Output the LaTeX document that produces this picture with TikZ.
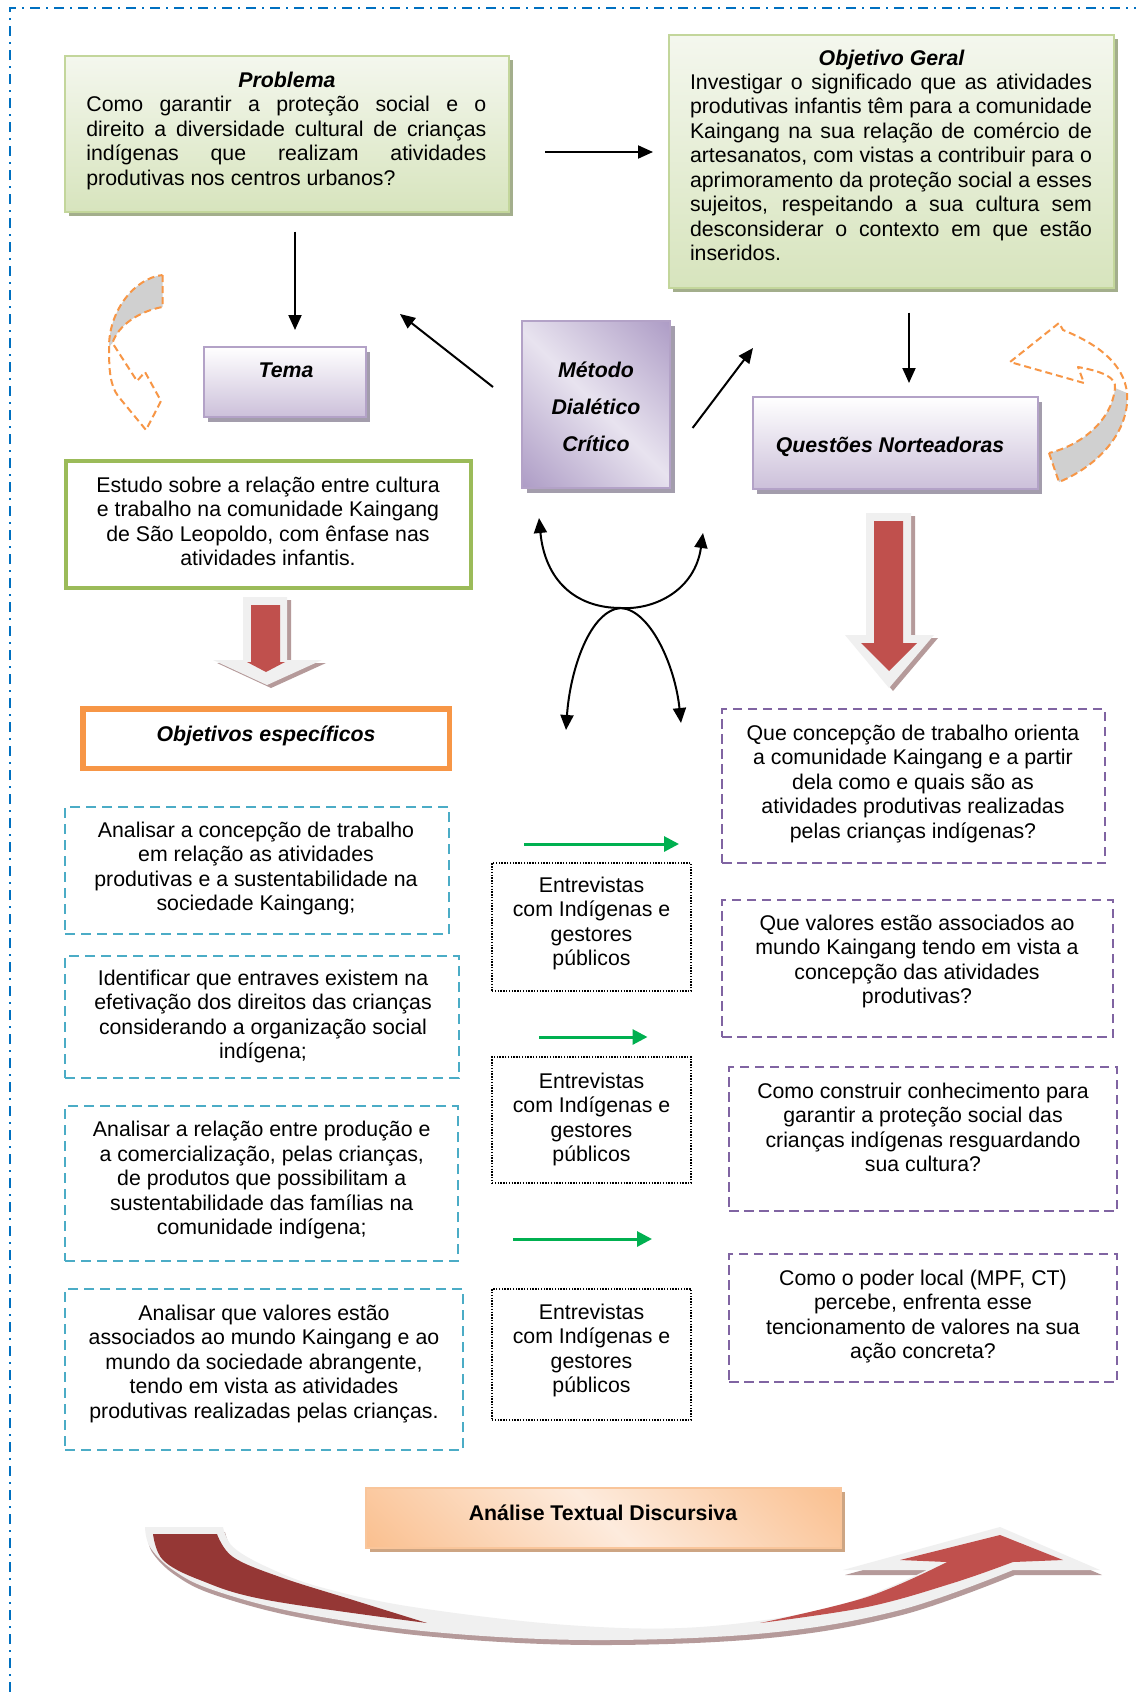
\documentclass[tikz,border=0pt]{standalone}
\usepackage{fontspec}
\setmainfont{Liberation Sans}
\usetikzlibrary{arrows.meta,shadows,calc}
\definecolor{bordblue}{HTML}{0070C0}
\definecolor{gtop}{HTML}{F4F7EE}
\definecolor{gbot}{HTML}{D7E4BD}
\definecolor{gline}{HTML}{C3D69B}
\definecolor{gshad}{HTML}{A3AE8C}
\definecolor{pbot}{HTML}{CCC0DA}
\definecolor{pline}{HTML}{B3A2C7}
\definecolor{pshad}{HTML}{A39DAC}
\definecolor{mpurp}{HTML}{AE9DC6}
\definecolor{mlight}{HTML}{E8E3EF}
\definecolor{opeach}{HTML}{FAC090}
\definecolor{olight}{HTML}{FDEBDD}
\definecolor{oshad}{HTML}{CDA583}
\definecolor{aline}{HTML}{F9C59A}
\definecolor{estgreen}{HTML}{9BBB59}
\definecolor{orng}{HTML}{F79646}
\definecolor{cyanb}{HTML}{4BACC6}
\definecolor{purpb}{HTML}{8064A2}
\definecolor{garrow}{HTML}{00B050}
\definecolor{redA}{HTML}{C0504D}
\definecolor{redD}{HTML}{953735}
\definecolor{frameg}{HTML}{F0F0F0}
\definecolor{rshad}{HTML}{B59A9A}
\definecolor{grayfill}{HTML}{D0D0D0}
\pgfdeclarehorizontalshading{metshade}{100bp}{color(0bp)=(mpurp); color(15bp)=(mpurp); color(50bp)=(mlight); color(85bp)=(mpurp); color(100bp)=(mpurp)}
\pgfdeclarehorizontalshading{anshade}{100bp}{color(0bp)=(opeach); color(15bp)=(opeach); color(50bp)=(olight); color(85bp)=(opeach); color(100bp)=(opeach)}
\newcommand\myfs{\fontsize{21.3}{24.5}\selectfont}
\newcommand\jline[2]{\makebox[#1][s]{\spaceskip=\fontdimen2\font plus 1fil\relax #2}}
\tikzset{
  txt/.style={inner sep=0pt, outer sep=0pt, anchor=base, font=\myfs,
    execute at begin node={\spaceskip=\fontdimen2\font\relax\xspaceskip=\fontdimen2\font\relax}},
  ctxt/.style={txt, text width=#1, align=center},
  gbox/.style={draw=gline, line width=1.2pt, top color=gtop, bottom color=gbot, inner sep=0pt, outer sep=0pt, drop shadow={shadow xshift=4pt, shadow yshift=-4pt, fill=gshad, opacity=1}},
  lbox/.style={draw=pline, line width=1.5pt, top color=white, bottom color=pbot, inner sep=0pt, outer sep=0pt, drop shadow={shadow xshift=4pt, shadow yshift=-5pt, fill=pshad, opacity=1}},
  mbox/.style={draw=pline, line width=1.5pt, shading=metshade, shading angle=45, inner sep=0pt, outer sep=0pt, drop shadow={shadow xshift=5pt, shadow yshift=-5pt, fill=pshad, opacity=1}},
  abox/.style={draw=aline, line width=1.5pt, shading=anshade, shading angle=45, inner sep=0pt, outer sep=0pt, drop shadow={shadow xshift=4pt, shadow yshift=-4pt, fill=oshad, opacity=1}},
  ebox/.style={draw=estgreen, line width=4pt, inner sep=0pt, outer sep=0pt},
  obox/.style={draw=orng, line width=5.5pt, inner sep=0pt, outer sep=0pt},
  cbox/.style={draw=cyanb, line width=2.3pt, dash pattern=on 10pt off 6pt, inner sep=0pt, outer sep=0pt},
  qbox/.style={draw=purpb, line width=2.3pt, dash pattern=on 9.5pt off 5.5pt, inner sep=0pt, outer sep=0pt},
  ibox/.style={draw=black, line width=1.4pt, dash pattern=on 1.4pt off 1.4pt, inner sep=0pt, outer sep=0pt},
  arr/.style={draw=black, line width=2pt, -{Triangle[width=13pt,length=15pt]}},
  dbl/.style={draw=black, line width=2pt, {Triangle[width=13pt,length=15pt]}-{Triangle[width=13pt,length=15pt]}},
  garr/.style={draw=garrow, line width=3pt, -{Triangle[width=15pt,length=15pt]}},
  oarr/.style={draw=orng, line width=2pt, dash pattern=on 7pt off 4pt, line join=round},
  bord/.style={draw=bordblue, line width=2pt, dash pattern=on 10pt off 6pt on 2pt off 6pt},
}
\begin{document}
\begin{tikzpicture}[x=1pt,y=-1pt]
\useasboundingbox (0,0) rectangle (1136,1692);
\fill[white] (0,0) rectangle (1136,1692);
% page border
\draw[bord] (10,1692) -- (10,8) -- (1136,8);

% ---------- boxes ----------
\node[gbox, minimum width=444pt, minimum height=156pt] (prob) at (287,134) {};
\node[gbox, minimum width=445pt, minimum height=253pt] (obj) at (891.5,161.5) {};
\node[lbox, minimum width=162pt, minimum height=70pt] (tema) at (285,382) {};
\node[mbox, minimum width=148pt, minimum height=167pt] (metodo) at (596,404.5) {};
\node[lbox, minimum width=285pt, minimum height=92pt] (ques) at (895.5,443) {};
\node[ebox, minimum width=405pt, minimum height=127.5pt] (estudo) at (268,524.3) {};
\node[obox, minimum width=366.5pt, minimum height=59.5pt] (oesp) at (266,738.5) {};
\node[cbox, minimum width=384pt, minimum height=127pt] (cy1) at (257,870.5) {};
\node[cbox, minimum width=394pt, minimum height=122pt] (cy2) at (262,1017) {};
\node[cbox, minimum width=393pt, minimum height=155pt] (cy3) at (261.5,1183.5) {};
\node[cbox, minimum width=398pt, minimum height=161pt] (cy4) at (264,1369.5) {};
\node[ibox, minimum width=199pt, minimum height=128pt] (en1) at (591.5,927) {};
\node[ibox, minimum width=199pt, minimum height=126pt] (en2) at (591.5,1120) {};
\node[ibox, minimum width=199pt, minimum height=131pt] (en3) at (591.5,1354.5) {};
\node[qbox, minimum width=383pt, minimum height=154pt] (pu1) at (913.5,786) {};
\node[qbox, minimum width=391pt, minimum height=137pt] (pu2) at (917.5,968.5) {};
\node[qbox, minimum width=388pt, minimum height=144pt] (pu3) at (923,1139) {};
\node[qbox, minimum width=388pt, minimum height=128pt] (pu4) at (923,1318) {};
\node[abox, minimum width=475pt, minimum height=60pt] (analise) at (603.5,1518) {};

% ---------- orange dashed curved arrows ----------
\fill[grayfill] (162.5,275) -- (162.5,307) .. controls (140,311) and (118,325) .. (112.5,343) -- (109,347) .. controls (109,310) and (135,278) .. (162.5,275) -- cycle;
\draw[oarr] (162.5,275) -- (162.5,307) .. controls (140,311) and (118,325) .. (112.5,343) -- (137,381) -- (145,372) -- (161,401) -- (146,430) -- (118,396) .. controls (110,385) and (109,370) .. (109,347) .. controls (109,310) and (135,278) .. (162.5,275) -- cycle;
\fill[grayfill] (1049,453) -- (1059,482) .. controls (1100,465) and (1130,430) .. (1127,393) -- (1115,388) .. controls (1112,420) and (1082,445) .. (1049,453) -- cycle;
\draw[oarr] (1049,453) -- (1059,482) .. controls (1100,465) and (1130,430) .. (1127,393) .. controls (1124,365) and (1100,345) .. (1063,330) -- (1059,323) -- (1010,362) -- (1084,383) -- (1078,367) .. controls (1105,372) and (1116,378) .. (1115,388) .. controls (1112,420) and (1082,445) .. (1049,453) -- cycle;

% ---------- red block arrows ----------
\fill[rshad, shift={(4,3)}] (243,597) -- (287,597) -- (287,660) -- (322,660) -- (267,685) -- (213,660) -- (243,660) -- cycle;
\fill[frameg] (243,597) -- (287,597) -- (287,660) -- (322,660) -- (267,685) -- (213,660) -- (243,660) -- cycle;
\fill[redA] (251,605) -- (280,605) -- (280,662) -- (285,662) -- (266,672) -- (247,662) -- (251,662) -- cycle;

\fill[rshad, shift={(4,3)}] (866,513) -- (911,513) -- (911,635) -- (934,635) -- (889,688) -- (845,635) -- (866,635) -- cycle;
\fill[frameg] (866,513) -- (911,513) -- (911,635) -- (934,635) -- (889,688) -- (845,635) -- (866,635) -- cycle;
\fill[redA] (874,521) -- (903,521) -- (903,643) -- (917,643) -- (889,671) -- (861,643) -- (874,643) -- cycle;

% ---------- big curved bottom arrow ----------
\fill[rshad, shift={(2,5)}] (145,1527) -- (223,1527) -- plot[smooth, tension=0.6] coordinates {(223,1527) (233,1547) (267,1567) (320,1587) (413,1607) (567,1625) (700,1627) (833,1607) (927,1570)} -- (843,1570) -- (1000,1527) -- (1100,1570) -- (1013,1570) -- plot[smooth, tension=0.6] coordinates {(1013,1570) (900,1610) (767,1633) (593,1640) (433,1632) (300,1613) (213,1590) (173,1570) (150,1547) (145,1527)} -- cycle;
\fill[frameg] (145,1527) -- (223,1527) -- plot[smooth, tension=0.6] coordinates {(223,1527) (233,1547) (267,1567) (320,1587) (413,1607) (567,1625) (700,1627) (833,1607) (927,1570)} -- (843,1570) -- (1000,1527) -- (1100,1570) -- (1013,1570) -- plot[smooth, tension=0.6] coordinates {(1013,1570) (900,1610) (767,1633) (593,1640) (433,1632) (300,1613) (213,1590) (173,1570) (150,1547) (145,1527)} -- cycle;
\fill[redD] plot[smooth, tension=0.6] coordinates {(153,1534) (163,1560) (200,1580) (267,1600) (427,1623)} -- plot[smooth, tension=0.6] coordinates {(427,1623) (353,1600) (280,1577) (233,1557) (217,1534)} -- cycle;
\fill[redA] plot[smooth, tension=0.6] coordinates {(760,1623) (867,1607) (953,1583) (1013,1562)} -- (1063,1560) -- (1000,1535) -- (900,1560) -- (947,1562) -- plot[smooth, tension=0.6] coordinates {(947,1562) (867,1597) (760,1623)} -- cycle;

% ---------- connectors ----------
\draw[arr, shorten <=36pt, shorten >=16pt] (prob.east |- 0,152) -- (obj.west |- 0,152);
\draw[arr, shorten <=19.7pt, shorten >=17pt] ([xshift=8pt]prob.south) -- ([xshift=8pt]prob.south |- tema.north);
\draw[arr, shorten <=24.7pt, shorten >=14pt] (obj.south -| 909,0) -- (ques.north -| 909,0);
\draw[arr] ($(metodo.west)+(-29,-17.5)$) -- ($(tema.north east)+(34,-33)$);
\draw[arr] ($(metodo.east)+(22.6,23.5)$) -- ($(ques.west)+(0,-95)$);

\coordinate (xm) at (621,608);
\coordinate (uL) at (539,518);
\coordinate (uR) at (703,533);
\coordinate (nL) at (566,730);
\coordinate (nR) at (681,723);
\draw[dbl] (uL) .. controls (545,580) and (575,608) .. (xm) .. controls (655,610) and (695,590) .. (uR);
\draw[dbl] (nL) .. controls (570,670) and (590,610) .. (xm) .. controls (650,610) and (675,665) .. (nR);

\draw[garr] ($(en1.north west)+(32,-19)$) -- ($(en1.north east)+(-12,-19)$);
\draw[garr] ($(en2.north west)+(47,-20)$) -- ($(en2.north east)+(-43.5,-20)$);
\draw[garr] ($(en3.north west)+(21,-50)$) -- ($(en3.north east)+(-39,-50)$);

% ---------- texts ----------
\node[txt, font=\myfs\bfseries\itshape] (tprobT) at (287,87) {Problema};
\node[txt, anchor=base west, text width=400pt, align=left] (tprob) at (86.4,111.7)
  {\jline{400pt}{Como garantir a proteção social e o}\\\jline{400pt}{direito a diversidade cultural de crianças}\\\jline{400pt}{indígenas que realizam atividades}\\produtivas nos centros urbanos?};
\node[txt, font=\myfs\bfseries\itshape] (tobjT) at (891.5,65) {Objetivo Geral};
\node[txt, anchor=base west, text width=402pt, align=left] (tobj) at (690,89.3)
  {\jline{402pt}{Investigar o significado que as atividades}\\\jline{402pt}{produtivas infantis têm para a comunidade}\\\jline{402pt}{Kaingang na sua relação de comércio de}\\\jline{402pt}{artesanatos, com vistas a contribuir para o}\\\jline{402pt}{aprimoramento da proteção social a esses}\\\jline{402pt}{sujeitos, respeitando a sua cultura sem}\\\jline{402pt}{desconsiderar o contexto em que estão}\\inseridos.};
\node[txt, font=\myfs\bfseries\itshape] (ttema) at (286,377.7) {Tema};
\node[ctxt=150pt, font=\fontsize{21.3}{37}\selectfont\bfseries\itshape] (tmet) at (596,377) {Método\\Dialético\\Crítico};
\node[txt, font=\myfs\bfseries\itshape] (tques) at (890,452.7) {Questões Norteadoras};
\node[ctxt=420pt] (testudo) at (268,492) {Estudo sobre a relação entre cultura\\e trabalho na comunidade Kaingang\\de São Leopoldo, com ênfase nas\\atividades infantis.};
\node[txt, font=\myfs\bfseries\itshape] (toesp) at (266,741) {Objetivos específicos};
\node[ctxt=420pt] (tcy1) at (256,837) {Analisar a concepção de trabalho\\em relação as atividades\\produtivas e a sustentabilidade na\\sociedade Kaingang;};
\node[ctxt=420pt] (tcy2) at (263,985) {Identificar que entraves existem na\\efetivação dos direitos das crianças\\considerando a organização social\\indígena;};
\node[ctxt=420pt] (tcy3) at (261.7,1136.7) {Analisar a relação entre produção e\\a comercialização, pelas crianças,\\de produtos que possibilitam a\\sustentabilidade das famílias na\\comunidade indígena;};
\node[ctxt=420pt] (tcy4) at (264,1320) {Analisar que valores estão\\associados ao mundo Kaingang e ao\\mundo da sociedade abrangente,\\tendo em vista as atividades\\produtivas realizadas pelas crianças.};
\node[ctxt=199pt] (ten1) at (591.5,892) {Entrevistas\\com Indígenas e\\gestores\\públicos};
\node[ctxt=199pt] (ten2) at (591.5,1088) {Entrevistas\\com Indígenas e\\gestores\\públicos};
\node[ctxt=199pt] (ten3) at (591.5,1319) {Entrevistas\\com Indígenas e\\gestores\\públicos};
\node[ctxt=420pt] (tpu1) at (913,740) {Que concepção de trabalho orienta\\a comunidade Kaingang e a partir\\dela como e quais são as\\atividades produtivas realizadas\\pelas crianças indígenas?};
\node[ctxt=420pt] (tpu2) at (917,930) {Que valores estão associados ao\\mundo Kaingang tendo em vista a\\concepção das atividades\\produtivas?};
\node[ctxt=420pt] (tpu3) at (923,1098) {Como construir conhecimento para\\garantir a proteção social das\\crianças indígenas resguardando\\sua cultura?};
\node[ctxt=420pt] (tpu4) at (923,1285) {Como o poder local (MPF, CT)\\percebe, enfrenta esse\\tencionamento de valores na sua\\ação concreta?};
\node[txt, font=\myfs\bfseries] (tanal) at (603,1520) {Análise Textual Discursiva};
\end{tikzpicture}
\end{document}
